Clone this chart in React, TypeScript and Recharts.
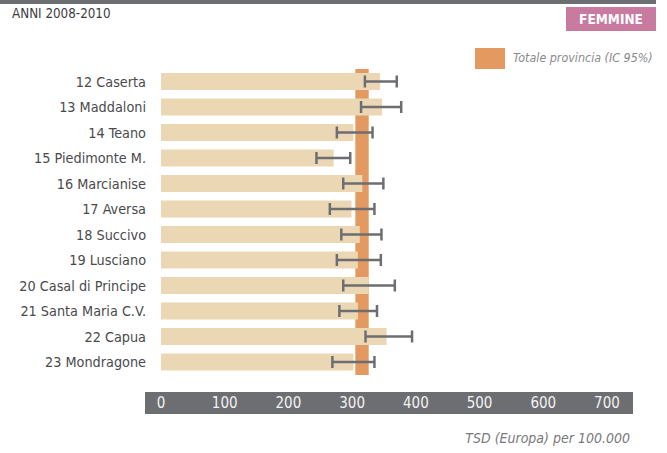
import {
  Bar,
  ComposedChart,
  ErrorBar,
  ReferenceArea,
  XAxis,
  YAxis,
} from "recharts";

const districts = [
  "12 Caserta",
  "13 Maddaloni",
  "14 Teano",
  "15 Piedimonte M.",
  "16 Marcianise",
  "17 Aversa",
  "18 Succivo",
  "19 Lusciano",
  "20 Casal di Principe",
  "21 Santa Maria C.V.",
  "22 Capua",
  "23 Mondragone",
];
const rates = [344, 347, 302, 271, 316, 299, 312, 309, 326, 309, 354, 302];
const ciLow = [320, 314, 276, 244, 286, 265, 283, 276, 286, 280, 321, 269];
const ciHigh = [370, 377, 332, 297, 349, 335, 346, 345, 367, 339, 394, 335];
const provinceLow = 305;
const provinceHigh = 326;
const xTicks = [0, 100, 200, 300, 400, 500, 600, 700];

const rows = districts.map((name, i) => ({
  name,
  value: rates[i],
  err: [rates[i] - ciLow[i], ciHigh[i] - rates[i]],
}));

const FONT = "'Liberation Sans Narrow', 'DejaVu Sans Condensed', 'Open Sans', sans-serif";
const GREY = "#6d6e71";
const ORANGE = "#e3995f";

export default function App() {
  return (
    <div
      style={{
        position: "absolute",
        left: 0,
        top: 0,
        width: 667,
        height: 453,
        background: "#fff",
        fontFamily: FONT,
      }}
    >
      <div style={{ position: "absolute", left: 0, top: 0, width: 656, height: 4, background: GREY }} />
      <div style={{ position: "absolute", left: 12, top: 6, fontSize: 13.3, color: "#3c3c3e" }}>
        ANNI 2008-2010
      </div>
      <div
        style={{
          position: "absolute",
          left: 566,
          top: 7,
          width: 90,
          height: 24,
          background: "#c97a9f",
          color: "#fff",
          fontWeight: "bold",
          fontSize: 13.5,
          lineHeight: "24px",
          textAlign: "center",
        }}
      >
        FEMMINE
      </div>
      <div style={{ position: "absolute", left: 475, top: 48, width: 30, height: 21, background: ORANGE }} />
      <div
        style={{
          position: "absolute",
          left: 513,
          top: 50,
          fontSize: 12.4,
          fontStyle: "italic",
          color: "#8a8a8c",
          whiteSpace: "nowrap",
        }}
      >
        Totale provincia (IC 95%)
      </div>
      <div style={{ position: "absolute", left: 145, top: 392, width: 488, height: 22, background: GREY }} />
      <div
        style={{
          position: "absolute",
          right: 37,
          top: 430,
          fontSize: 14,
          fontStyle: "italic",
          color: "#7a7a7c",
          whiteSpace: "nowrap",
        }}
      >
        TSD (Europa) per 100.000
      </div>
      <ComposedChart
        width={667}
        height={453}
        data={rows}
        layout="vertical"
        margin={{ top: 69, right: 60, bottom: 0, left: 0 }}
        barCategoryGap={8}
      >
        <XAxis
          type="number"
          domain={[0, 700]}
          ticks={xTicks}
          axisLine={false}
          tickLine={false}
          tickSize={0}
          tickMargin={22}
          height={78}
          interval={0}
          tick={{ fill: "#f2f2f2", fontSize: 15, fontFamily: FONT }}
        />
        <YAxis
          type="category"
          dataKey="name"
          width={161}
          axisLine={false}
          tickLine={false}
          tickSize={0}
          tickMargin={15}
          interval={0}
          tick={{ fill: "#4a4a4c", fontSize: 14.3, fontFamily: FONT }}
        />
        <ReferenceArea
          x1={provinceLow}
          x2={provinceHigh}
          fill={ORANGE}
          fillOpacity={1}
          stroke="none"
          ifOverflow="extendDomain"
        />
        <Bar dataKey="value" fill="#ebd7b4" barSize={17} isAnimationActive={false}>
          <ErrorBar
            dataKey="err"
            direction="x"
            width={6}
            stroke={GREY}
            strokeWidth={2.5}
            isAnimationActive={false}
          />
        </Bar>
      </ComposedChart>
    </div>
  );
}
